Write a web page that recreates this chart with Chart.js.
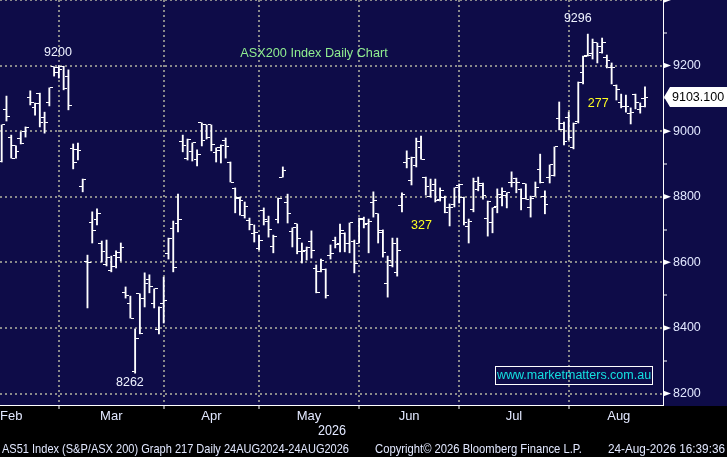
<!DOCTYPE html>
<html>
<head>
<meta charset="utf-8">
<title>ASX200 Index Daily Chart</title>
<script src="https://cdn.jsdelivr.net/npm/chart.js@4.4.0/dist/chart.umd.min.js"></script>
<style>
html, body { margin: 0; padding: 0; background: #000; }
#wrap { width: 727px; height: 457px; }
</style>
</head>
<body>
<div id="wrap"><canvas id="asx-chart" width="727" height="457"></canvas></div>
<script>
// daily OHLC, AS51 Index, Feb - Aug 2026
var opens = [
    8909, 9065, 8982, 8955, 8979, 8998, 9104, 9071, 9116, 9043,
    9086, 9196, 9193, 9198, 9168, 8946, 8943, 8830, 8604, 8720,
    8732, 8659, 8592, 8574, 8622, 8629, 8507, 8473, 8266, 8504,
    8491, 8549, 8476, 8394, 8473, 8626, 8702, 8717, 8970, 8918,
    8937, 8915, 9025, 9019, 9019, 8934, 8940, 8973, 8906, 8824,
    8799, 8744, 8729, 8687, 8641, 8757, 8726, 8647, 8732, 8860,
    8784, 8693, 8717, 8632, 8635, 8665, 8580, 8571, 8577, 8622,
    8668, 8659, 8687, 8659, 8665, 8659, 8732, 8717, 8784, 8748,
    8696, 8537, 8589, 8568, 8772, 8903, 8851, 8894, 8949, 8860,
    8802, 8836, 8793, 8799, 8766, 8775, 8833, 8799, 8708, 8760,
    8821, 8839, 8735, 8720, 8769, 8799, 8805, 8845, 8857, 8821,
    8839, 8766, 8802, 8882, 8802, 8860, 8866, 9040, 9022, 9043,
    8949, 9028, 9180, 9232, 9238, 9269, 9241, 9226, 9193, 9138,
    9086, 9074, 9055, 9113, 9065, 9101
];
var highs = [
    9019, 9107, 8988, 8955, 8998, 9013, 9123, 9086, 9116, 9058,
    9132, 9196, 9200, 9198, 9187, 8961, 8964, 8854, 8622, 8754,
    8763, 8665, 8668, 8619, 8635, 8659, 8525, 8497, 8397, 8504,
    8568, 8562, 8519, 8464, 8555, 8674, 8726, 8808, 8988, 8976,
    8964, 8943, 9025, 9019, 9019, 8949, 8958, 8979, 8906, 8827,
    8799, 8784, 8735, 8714, 8683, 8766, 8741, 8683, 8796, 8891,
    8808, 8705, 8717, 8659, 8647, 8696, 8592, 8610, 8580, 8653,
    8677, 8717, 8690, 8720, 8668, 8735, 8738, 8732, 8815, 8748,
    8699, 8619, 8674, 8674, 8812, 8940, 8921, 8979, 8985, 8860,
    8854, 8854, 8827, 8802, 8778, 8827, 8839, 8799, 8732, 8857,
    8860, 8842, 8787, 8766, 8824, 8827, 8812, 8876, 8857, 8824,
    8839, 8802, 8845, 8930, 8818, 8897, 8952, 9089, 9028, 9058,
    9025, 9150, 9229, 9296, 9281, 9269, 9284, 9232, 9208, 9141,
    9113, 9110, 9071, 9113, 9086, 9135
];
var lows = [
    8906, 9031, 8918, 8918, 8961, 8982, 9080, 9049, 9013, 8994,
    9077, 9168, 9162, 9126, 9065, 8885, 8912, 8815, 8461, 8659,
    8714, 8601, 8589, 8571, 8583, 8604, 8491, 8430, 8262, 8382,
    8464, 8507, 8461, 8382, 8415, 8610, 8571, 8693, 8937, 8912,
    8909, 8894, 8955, 8976, 8940, 8906, 8903, 8918, 8845, 8751,
    8744, 8735, 8699, 8662, 8638, 8714, 8677, 8629, 8720, 8860,
    8720, 8647, 8626, 8598, 8607, 8613, 8507, 8571, 8491, 8610,
    8644, 8632, 8632, 8629, 8568, 8659, 8705, 8629, 8738, 8659,
    8616, 8494, 8586, 8558, 8754, 8888, 8836, 8891, 8915, 8805,
    8799, 8784, 8787, 8751, 8711, 8769, 8781, 8714, 8659, 8754,
    8818, 8793, 8680, 8690, 8751, 8772, 8766, 8830, 8812, 8760,
    8793, 8738, 8802, 8842, 8748, 8842, 8863, 9004, 8958, 8973,
    8946, 9025, 9144, 9229, 9220, 9208, 9238, 9193, 9144, 9095,
    9071, 9058, 9022, 9068, 9055, 9074
];
var closes = [
    9019, 9046, 8918, 8937, 8961, 9010, 9086, 9083, 9025, 9025,
    9132, 9180, 9187, 9129, 9077, 8903, 8940, 8854, 8601, 8696,
    8748, 8632, 8616, 8586, 8616, 8644, 8500, 8430, 8369, 8382,
    8537, 8525, 8519, 8461, 8485, 8674, 8583, 8732, 8955, 8976,
    8964, 8930, 8973, 8982, 8958, 8949, 8955, 8952, 8845, 8796,
    8790, 8769, 8714, 8690, 8668, 8732, 8699, 8680, 8796, 8879,
    8748, 8705, 8674, 8632, 8644, 8635, 8507, 8607, 8500, 8626,
    8653, 8696, 8656, 8720, 8595, 8735, 8714, 8726, 8790, 8690,
    8629, 8607, 8656, 8635, 8808, 8918, 8921, 8970, 8915, 8830,
    8818, 8790, 8818, 8751, 8766, 8827, 8836, 8723, 8726, 8848,
    8833, 8805, 8787, 8766, 8808, 8815, 8812, 8845, 8845, 8796,
    8793, 8796, 8827, 8842, 8775, 8897, 8952, 9004, 8970, 8982,
    9022, 9147, 9229, 9232, 9269, 9257, 9269, 9217, 9193, 9126,
    9074, 9074, 9058, 9086, 9074, 9103.1
];

// months on the time axis: name and index of the first trading day
var monthNames = ['Feb', 'Mar', 'Apr', 'May', 'Jun', 'Jul', 'Aug'];
var monthStarts = [-8, 12, 34, 54, 75, 96, 119, 140];
var yearLabel = '2026';
var yearIdx = 69.3;

var yTicks = [8200, 8300, 8400, 8500, 8600, 8700, 8800, 8900, 9000, 9100, 9200, 9300, 9400];

// notes written on the chart (text, bar index, index level)
var noteText = ['9200', '8262', '9296', '327', '277'];
var noteIdx = [11.8, 26.9, 120.9, 88.1, 125.2];
var noteVal = [9241, 8232, 9342, 8711, 9083];

var titleText = 'ASX200 Index Daily Chart';
var siteText = 'www.marketmatters.com.au';
var footLeft = 'AS51 Index (S&P/ASX 200) Graph 217 Daily 24AUG2024-24AUG2026';
var footMid = 'Copyright\u00a9 2026 Bloomberg Finance L.P.';
var footRight = '24-Aug-2026 16:39:36';

var NAVY = '#0e0c48';
var GRID = '#8a8a8a';
var TEXT = '#e2e8ff';
var SANS = "'Liberation Sans', Arial, sans-serif";

var boundaries = monthStarts.slice(1, monthStarts.length - 1);
var centers = monthNames.map(function(m, i) {
    return (monthStarts[i] + monthStarts[i + 1]) / 2;
});
var xTickVals = boundaries.concat(centers).sort(function(a, b) { return a - b; });

function isBoundary(v) {
    return boundaries.indexOf(v) !== -1;
}

// little open / close ticks used as point images
function makeTick(side) {
    var cv = document.createElement('canvas');
    cv.width = 7;
    cv.height = 1;
    var g = cv.getContext('2d');
    g.fillStyle = '#ffffff';
    if (side === 'left') g.fillRect(0, 0, 3, 1);
    else g.fillRect(4, 0, 3, 1);
    return cv;
}

// Bloomberg uses a condensed face: squeeze the text into the width it has there
function fitText(c, text, x, y, width) {
    var w = c.measureText(text).width;
    c.save();
    c.translate(x, y);
    c.scale(Math.min(1, width / w), 1);
    c.fillText(text, 0, 0);
    c.restore();
}

var rangeData = highs.map(function(h, i) { return { x: i, y: [lows[i], h] }; });
var openData = opens.map(function(v, i) { return { x: i, y: v }; });
var closeData = closes.map(function(v, i) { return { x: i, y: v }; });

var decor = {
    id: 'bbgDecor',
    beforeDraw: function(chart) {
        var c = chart.ctx, a = chart.chartArea;
        c.save();
        c.fillStyle = '#000';
        c.fillRect(0, 0, chart.width, chart.height);
        c.fillStyle = NAVY;
        c.fillRect(0, 0, chart.width, a.bottom + 1);
        c.restore();
    },
    afterDraw: function(chart) {
        var c = chart.ctx, a = chart.chartArea;
        var xs = chart.scales.x, ys = chart.scales.y;
        c.save();

        // arrow heads on the major price ticks
        c.fillStyle = '#ffffff';
        yTicks.forEach(function(v) {
            if (v % 200 !== 0) return;
            var y = ys.getPixelForValue(v);
            c.beginPath();
            c.moveTo(a.right, y - 3);
            c.lineTo(a.right + 8, y);
            c.lineTo(a.right, y + 3);
            c.closePath();
            c.fill();
        });

        // notes
        c.textAlign = 'center';
        c.textBaseline = 'middle';
        c.font = '12.5px ' + SANS;
        noteText.forEach(function(t, i) {
            c.fillStyle = (t.length === 3) ? '#ffff22' : '#eef2ff';
            c.fillText(t, xs.getPixelForValue(noteIdx[i]), ys.getPixelForValue(noteVal[i]));
        });

        // title
        c.fillStyle = '#90ee90';
        c.font = '12.7px ' + SANS;
        c.fillText(titleText, a.left + 314, 53);

        // web address box
        c.strokeStyle = '#ffffff';
        c.lineWidth = 1;
        c.strokeRect(495.5, 366.5, 157, 18);
        c.fillStyle = '#14e0e0';
        c.font = '12.5px ' + SANS;
        c.fillText(siteText, 574, 376);

        // last price flag
        var last = closes[closes.length - 1];
        var py = Math.round(ys.getPixelForValue(last));
        c.beginPath();
        c.moveTo(a.right + 1, py);
        c.lineTo(a.right + 7, py - 10);
        c.lineTo(chart.width, py - 10);
        c.lineTo(chart.width, py + 10);
        c.lineTo(a.right + 7, py + 10);
        c.closePath();
        c.fillStyle = '#ffffff';
        c.fill();
        c.fillStyle = '#000000';
        c.textAlign = 'left';
        c.font = '12.5px ' + SANS;
        c.fillText(last.toFixed(3), a.right + 9, py + 1);

        // year under the month labels
        c.fillStyle = TEXT;
        c.textAlign = 'left';
        c.font = '14px ' + SANS;
        fitText(c, yearLabel, xs.getPixelForValue(yearIdx) - 14, 431, 28);

        // footer
        c.font = '13px ' + SANS;
        fitText(c, footLeft, 2, 449, 347);
        fitText(c, footMid, 375, 449, 207);
        fitText(c, footRight, 608, 449, 117);

        c.restore();
    }
};

var ctx = document.getElementById('asx-chart').getContext('2d');
var asx_chart = new Chart(ctx, {
    type: 'bar',
    data: {
        datasets: [
            {
                type: 'bar',
                label: 'Range',
                data: rangeData,
                backgroundColor: '#ffffff',
                borderWidth: 0,
                barThickness: 1.2,
                grouped: false,
                order: 2
            },
            {
                type: 'scatter',
                label: 'Open',
                data: openData,
                pointStyle: makeTick('left'),
                pointRadius: 3,
                order: 1
            },
            {
                type: 'scatter',
                label: 'Close',
                data: closeData,
                pointStyle: makeTick('right'),
                pointRadius: 3,
                order: 1
            }
        ]
    },
    options: {
        responsive: false,
        animation: false,
        layout: { padding: 0, autoPadding: false },
        plugins: {
            legend: { display: false },
            tooltip: { enabled: false },
            title: { display: false }
        },
        scales: {
            x: {
                type: 'linear',
                min: -0.357,
                max: 138.78,
                offset: false,
                afterBuildTicks: function(scale) {
                    scale.ticks = xTickVals.map(function(v) { return { value: v }; });
                },
                afterFit: function(scale) {
                    scale.height = 52;
                    scale.paddingLeft = 0;
                    scale.paddingRight = 0;
                },
                grid: {
                    offset: false,
                    color: function(c) { return c.tick && isBoundary(c.tick.value) ? GRID : 'rgba(0,0,0,0)'; },
                    lineWidth: 2,
                    tickLength: 4,
                    tickWidth: 1,
                    tickBorderDash: [],
                    tickColor: function(c) { return c.tick && isBoundary(c.tick.value) ? '#ffffff' : 'rgba(0,0,0,0)'; }
                },
                border: { display: true, color: '#ffffff', width: 1, dash: [2, 3] },
                ticks: {
                    autoSkip: false,
                    maxRotation: 0,
                    padding: 0,
                    color: TEXT,
                    font: { family: SANS, size: 13 },
                    callback: function(value) {
                        var k = centers.indexOf(value);
                        return k === -1 ? '' : monthNames[k];
                    }
                }
            },
            y: {
                position: 'right',
                min: 8165,
                max: 9400,
                afterBuildTicks: function(scale) {
                    scale.ticks = yTicks.map(function(v) { return { value: v }; });
                },
                afterFit: function(scale) {
                    scale.width = 64;
                    scale.paddingTop = 0;
                    scale.paddingBottom = 0;
                },
                grid: {
                    color: function(c) { return c.tick && c.tick.value % 200 === 0 ? GRID : 'rgba(0,0,0,0)'; },
                    lineWidth: 2,
                    tickLength: 4,
                    tickWidth: 1,
                    tickBorderDash: [],
                    tickColor: function(c) { return c.tick && c.tick.value % 200 !== 0 ? '#ffffff' : 'rgba(0,0,0,0)'; }
                },
                border: { display: true, color: '#ffffff', width: 1, dash: [2, 3] },
                ticks: {
                    padding: 6,
                    color: TEXT,
                    font: { family: SANS, size: 12.5 },
                    callback: function(value) {
                        return (value % 200 === 0 && value < 9400) ? String(value) : '';
                    }
                }
            }
        }
    },
    plugins: [decor]
});
</script>
</body>
</html>
